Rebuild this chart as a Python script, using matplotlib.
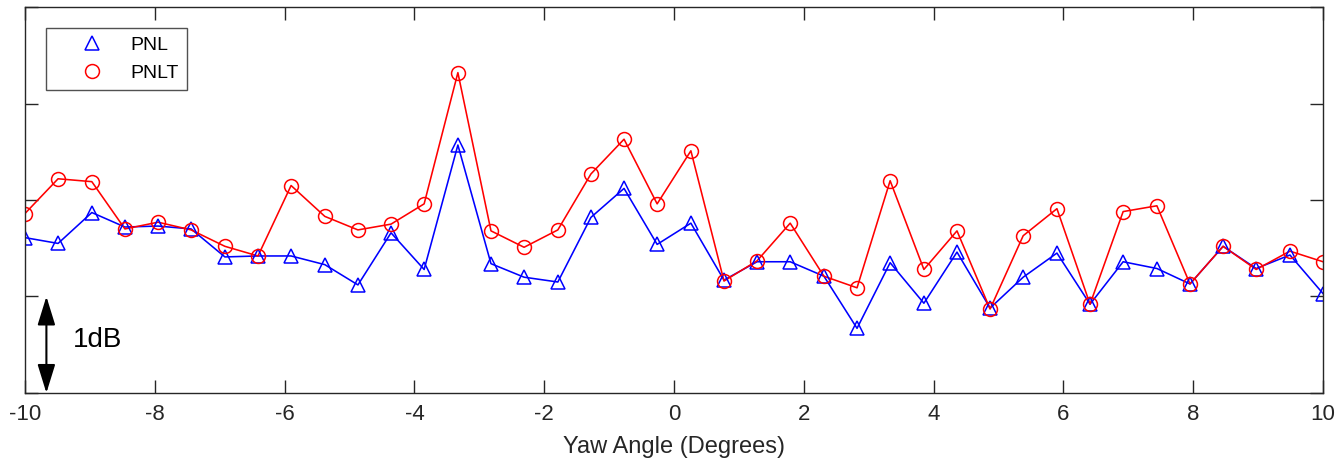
"""
Yaw angle sweep: PNL vs PNLT (relative dB, 1 dB per y tick).
"""

import matplotlib
matplotlib.use("Agg")
import matplotlib.pyplot as plt
from matplotlib.patches import FancyArrowPatch

# ================================================================
# DATA
# ================================================================

YAW_DEG = [
    -10.00, -9.49, -8.97, -8.46, -7.95, -7.44, -6.92, -6.41, -5.90, -5.38,
    -4.87, -4.36, -3.85, -3.33, -2.82, -2.31, -1.79, -1.28, -0.77, -0.26,
    0.26, 0.77, 1.28, 1.79, 2.31, 2.82, 3.33, 3.85, 4.36, 4.87,
    5.38, 5.90, 6.41, 6.92, 7.44, 7.95, 8.46, 8.97, 9.49, 10.00,
]

PNL = [
    1.61, 1.55, 1.87, 1.72, 1.73, 1.70, 1.41, 1.42, 1.42, 1.33,
    1.12, 1.66, 1.28, 2.57, 1.34, 1.20, 1.15, 1.82, 2.12, 1.54,
    1.76, 1.17, 1.36, 1.36, 1.21, 0.67, 1.35, 0.93, 1.46, 0.88,
    1.20, 1.45, 0.92, 1.36, 1.29, 1.13, 1.52, 1.29, 1.43, 1.03,
]

PNLT = [
    1.86, 2.22, 2.19, 1.70, 1.77, 1.69, 1.52, 1.42, 2.15, 1.83,
    1.69, 1.75, 1.96, 3.32, 1.68, 1.51, 1.69, 2.27, 2.63, 1.96,
    2.51, 1.16, 1.37, 1.76, 1.21, 1.09, 2.20, 1.28, 1.68, 0.87,
    1.63, 1.91, 0.92, 1.88, 1.94, 1.13, 1.52, 1.28, 1.47, 1.36,
]

X_TICKS = [-10, -8, -6, -4, -2, 0, 2, 4, 6, 8, 10]
Y_TICKS = [0, 1, 2, 3, 4]

SERIES_COLORS = {"PNL": "#0000FF", "PNLT": "#FF0000"}
AXIS_GREY = "#262626"

plt.rcParams.update({
    "font.family": ["Liberation Sans", "DejaVu Sans"],
    "axes.unicode_minus": False,
})


def main():
    fig = plt.figure(figsize=(13.36, 4.62), dpi=100)
    ax = fig.add_axes([0.0187, 0.1494, 0.9716, 0.8354])

    # connecting lines (kept out of the legend)
    ax.plot(YAW_DEG, PNL, color=SERIES_COLORS["PNL"], linewidth=1.15,
            label="_nolegend_")
    ax.plot(YAW_DEG, PNLT, color=SERIES_COLORS["PNLT"], linewidth=1.15,
            label="_nolegend_")

    # markers
    ax.plot(YAW_DEG, PNL, linestyle="none", marker="^", markersize=10.5,
            markerfacecolor="none", markeredgecolor=SERIES_COLORS["PNL"],
            markeredgewidth=1.1, label="PNL")
    ax.plot(YAW_DEG, PNLT, linestyle="none", marker="o", markersize=10,
            markerfacecolor="none", markeredgecolor=SERIES_COLORS["PNLT"],
            markeredgewidth=1.1, label="PNLT")

    ax.set_xlim(-10, 10)
    ax.set_ylim(0, 4)
    ax.set_xticks(X_TICKS)
    ax.set_xticklabels([str(t) for t in X_TICKS])
    ax.set_yticks(Y_TICKS)
    ax.set_yticklabels([])
    ax.tick_params(direction="in", length=9.5, width=1.0, color=AXIS_GREY,
                   top=True, right=True, labelsize=16, labelcolor=AXIS_GREY,
                   pad=8)
    for spine in ax.spines.values():
        spine.set_color(AXIS_GREY)
        spine.set_linewidth(1.0)

    ax.set_xlabel("Yaw Angle (Degrees)", fontsize=17, color=AXIS_GREY,
                  labelpad=8)

    # 1 dB scale bar
    arrow = FancyArrowPatch((-9.67, 0.0), (-9.67, 1.0),
                            arrowstyle="<|-|>,head_length=11,head_width=3.4",
                            color="black", linewidth=1.5,
                            shrinkA=0, shrinkB=0, mutation_scale=1.6)
    ax.add_patch(arrow)
    ax.text(-9.26, 0.55, "1dB", fontsize=20, color="black",
            ha="left", va="center")

    leg = ax.legend(loc="upper left", bbox_to_anchor=(0.016, 0.946),
                    borderaxespad=0, fontsize=14, frameon=True, fancybox=False,
                    handlelength=3.9, handletextpad=0.0, borderpad=0.45,
                    labelspacing=0.5)
    leg.get_frame().set_edgecolor(AXIS_GREY)
    leg.get_frame().set_linewidth(1.0)

    fig.savefig("out.png", dpi=100)
    plt.close(fig)


if __name__ == "__main__":
    main()
